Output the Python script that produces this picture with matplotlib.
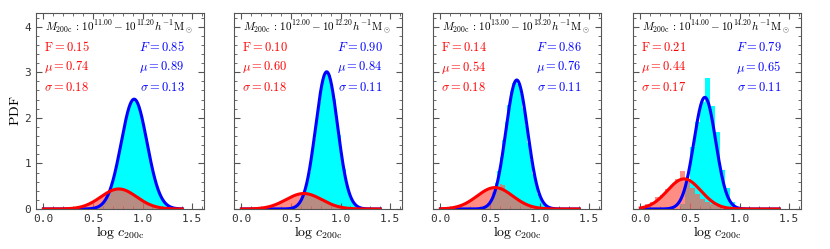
import numpy as np
import matplotlib
matplotlib.use("Agg")
import matplotlib.pyplot as plt
from matplotlib.ticker import MultipleLocator

plt.rcParams['mathtext.fontset'] = 'cm'

# mass bins (log10 M200c edges)
mass_lo = ['11.00', '12.00', '13.00', '14.00']
mass_hi = ['11.20', '12.20', '13.20', '14.20']

# fitted two-component parameters, as printed in each panel
red_F = [0.15, 0.10, 0.14, 0.21]
red_mu = [0.74, 0.60, 0.54, 0.44]
red_sig = [0.18, 0.18, 0.18, 0.17]
blue_F = [0.85, 0.90, 0.86, 0.79]
blue_mu = [0.89, 0.84, 0.76, 0.65]
blue_sig = [0.13, 0.11, 0.11, 0.11]

# where each drawn curve peaks and how high
red_cx = [0.76, 0.63, 0.55, 0.44]
blue_cx = [0.915, 0.86, 0.77, 0.65]
red_peak = [0.44, 0.34, 0.47, 0.66]
blue_peak = [2.41, 3.01, 2.83, 2.45]

# histograms: bin width, index of first bin (bins start at 0), heights
bin_w = [0.025, 0.025, 0.025, 0.05]
blue_k0 = [21, 19, 15, 8]
blue_hist = [
    [0.04, 0.06, 0.10, 0.16, 0.25, 0.37, 0.52, 0.72, 0.95, 1.21, 1.49, 1.77,
     2.02, 2.22, 2.36, 2.41, 2.37, 2.25, 2.06, 1.82, 1.55, 1.27, 1.00, 0.76,
     0.56, 0.39, 0.27, 0.18, 0.11, 0.07, 0.04, 0.02, 0.01],
    [0.01, 0.02, 0.04, 0.07, 0.12, 0.22, 0.36, 0.55, 0.82, 1.15, 1.54, 1.95,
     2.35, 2.68, 2.92, 3.01, 2.95, 2.74, 2.42, 2.03, 1.62, 1.22, 0.88, 0.60,
     0.39, 0.24, 0.14, 0.08, 0.04, 0.02, 0.01],
    [0.01, 0.02, 0.04, 0.07, 0.13, 0.23, 0.37, 0.57, 0.83, 1.15, 1.52, 1.91,
     2.28, 2.58, 2.77, 2.83, 2.74, 2.52, 2.21, 1.83, 1.45, 1.08, 0.77, 0.52,
     0.33, 0.20, 0.12, 0.06, 0.03, 0.02, 0.01],
    [0.10, 0.60, 1.35, 1.90, 2.35, 2.87, 2.25, 1.70, 0.85, 0.45, 0.15, 0.04],
]
red_k0 = [9, 4, 0, 0]
red_hist = [
    [0.01, 0.01, 0.01, 0.02, 0.03, 0.04, 0.05, 0.07, 0.08, 0.11, 0.13, 0.16,
     0.20, 0.23, 0.27, 0.31, 0.34, 0.37, 0.40, 0.42, 0.44, 0.44, 0.44, 0.43,
     0.41, 0.38, 0.35, 0.32, 0.28, 0.24, 0.21, 0.17, 0.14, 0.11, 0.09, 0.07,
     0.05, 0.04, 0.03, 0.02, 0.01, 0.01, 0.01],
    [0.01, 0.01, 0.01, 0.02, 0.03, 0.03, 0.05, 0.06, 0.08, 0.10, 0.12, 0.14,
     0.17, 0.20, 0.23, 0.25, 0.28, 0.30, 0.32, 0.33, 0.34, 0.34, 0.33, 0.32,
     0.30, 0.28, 0.25, 0.23, 0.20, 0.17, 0.14, 0.12, 0.10, 0.08, 0.06, 0.05,
     0.03, 0.03, 0.02, 0.01, 0.01, 0.01],
    [0.01, 0.01, 0.01, 0.02, 0.03, 0.04, 0.05, 0.07, 0.09, 0.11, 0.14, 0.18,
     0.21, 0.25, 0.29, 0.33, 0.37, 0.40, 0.43, 0.45, 0.46, 0.47, 0.47, 0.48,
     0.55, 0.53, 0.37, 0.34, 0.30, 0.26, 0.22, 0.18, 0.15, 0.12, 0.09, 0.07,
     0.06, 0.04, 0.03, 0.02, 0.02, 0.01, 0.01],
    [0.03, 0.10, 0.15, 0.27, 0.30, 0.44, 0.52, 0.66, 0.84, 0.60, 0.46, 0.33,
     0.22, 0.15, 0.10, 0.06, 0.03, 0.01],
]

gray = '#555555'

fig = plt.figure(figsize=(8.3, 2.49), dpi=100)
lefts = [36, 234, 433, 633]

x = np.linspace(0.0, 1.4, 400)

for i in range(4):
    ax = fig.add_axes([lefts[i] / 830, 40 / 249, 168 / 830, 196 / 249])
    bw = bin_w[i]

    hb = np.array(blue_hist[i])
    eb = (blue_k0[i] + np.arange(len(hb) + 1)) * bw
    ax.stairs(hb, eb, fill=True, color='cyan', lw=0, zorder=1)

    hr = np.array(red_hist[i])
    er = (red_k0[i] + np.arange(len(hr) + 1)) * bw
    ax.stairs(hr, er, fill=True, color=(1.0, 0.38, 0.33), alpha=0.72, lw=0, zorder=2)

    yb = blue_peak[i] * np.exp(-0.5 * ((x - blue_cx[i]) / blue_sig[i]) ** 2)
    yr = red_peak[i] * np.exp(-0.5 * ((x - red_cx[i]) / red_sig[i]) ** 2)
    ax.plot(x, yb, color='blue', lw=2.2, zorder=3)
    ax.plot(x, yr, color='red', lw=2.2, zorder=4)

    ax.set_xlim(-0.075, 1.62)
    ax.set_ylim(0, 4.3)
    ax.xaxis.set_major_locator(MultipleLocator(0.5))
    ax.xaxis.set_minor_locator(MultipleLocator(0.1))
    ax.yaxis.set_major_locator(MultipleLocator(1))
    ax.yaxis.set_minor_locator(MultipleLocator(0.2))
    ax.tick_params(which='both', direction='in', top=True, right=True,
                   color=gray, labelcolor='#333333', labelsize=8)
    ax.tick_params(which='major', length=4)
    ax.tick_params(which='minor', length=2)
    for lab in ax.get_xticklabels() + ax.get_yticklabels():
        lab.set_family('DejaVu Sans Mono')
    for sp in ax.spines.values():
        sp.set_color(gray)
    if i > 0:
        ax.set_yticklabels([])
    else:
        ax.set_ylabel(r'$\mathrm{PDF}$', fontsize=10, labelpad=2)
    ax.set_xlabel(r'$\log\, c_{\rm 200c}$', fontsize=10, labelpad=0)

    ax.text(0.055, 0.925, r'$M_{\rm 200c}\,:\,10^{%s} - 10^{%s}h^{-1}{\rm M}_\odot$'
            % (mass_lo[i], mass_hi[i]), transform=ax.transAxes, fontsize=8,
            va='center', ha='left', color='black')
    ax.text(0.05, 0.825, r'$\mathrm{F} = %.2f$' % red_F[i], transform=ax.transAxes,
            fontsize=9, va='center', color='red')
    ax.text(0.05, 0.723, r'$\mu = %.2f$' % red_mu[i], transform=ax.transAxes,
            fontsize=9, va='center', color='red')
    ax.text(0.05, 0.621, r'$\sigma = %.2f$' % red_sig[i], transform=ax.transAxes,
            fontsize=9, va='center', color='red')
    ax.text(0.885, 0.825, r'$F = %.2f$' % blue_F[i], transform=ax.transAxes,
            fontsize=9, va='center', ha='right', color='blue')
    ax.text(0.885, 0.723, r'$\mu = %.2f$' % blue_mu[i], transform=ax.transAxes,
            fontsize=9, va='center', ha='right', color='blue')
    ax.text(0.885, 0.621, r'$\sigma = %.2f$' % blue_sig[i], transform=ax.transAxes,
            fontsize=9, va='center', ha='right', color='blue')

fig.savefig('out.png', dpi=100)
